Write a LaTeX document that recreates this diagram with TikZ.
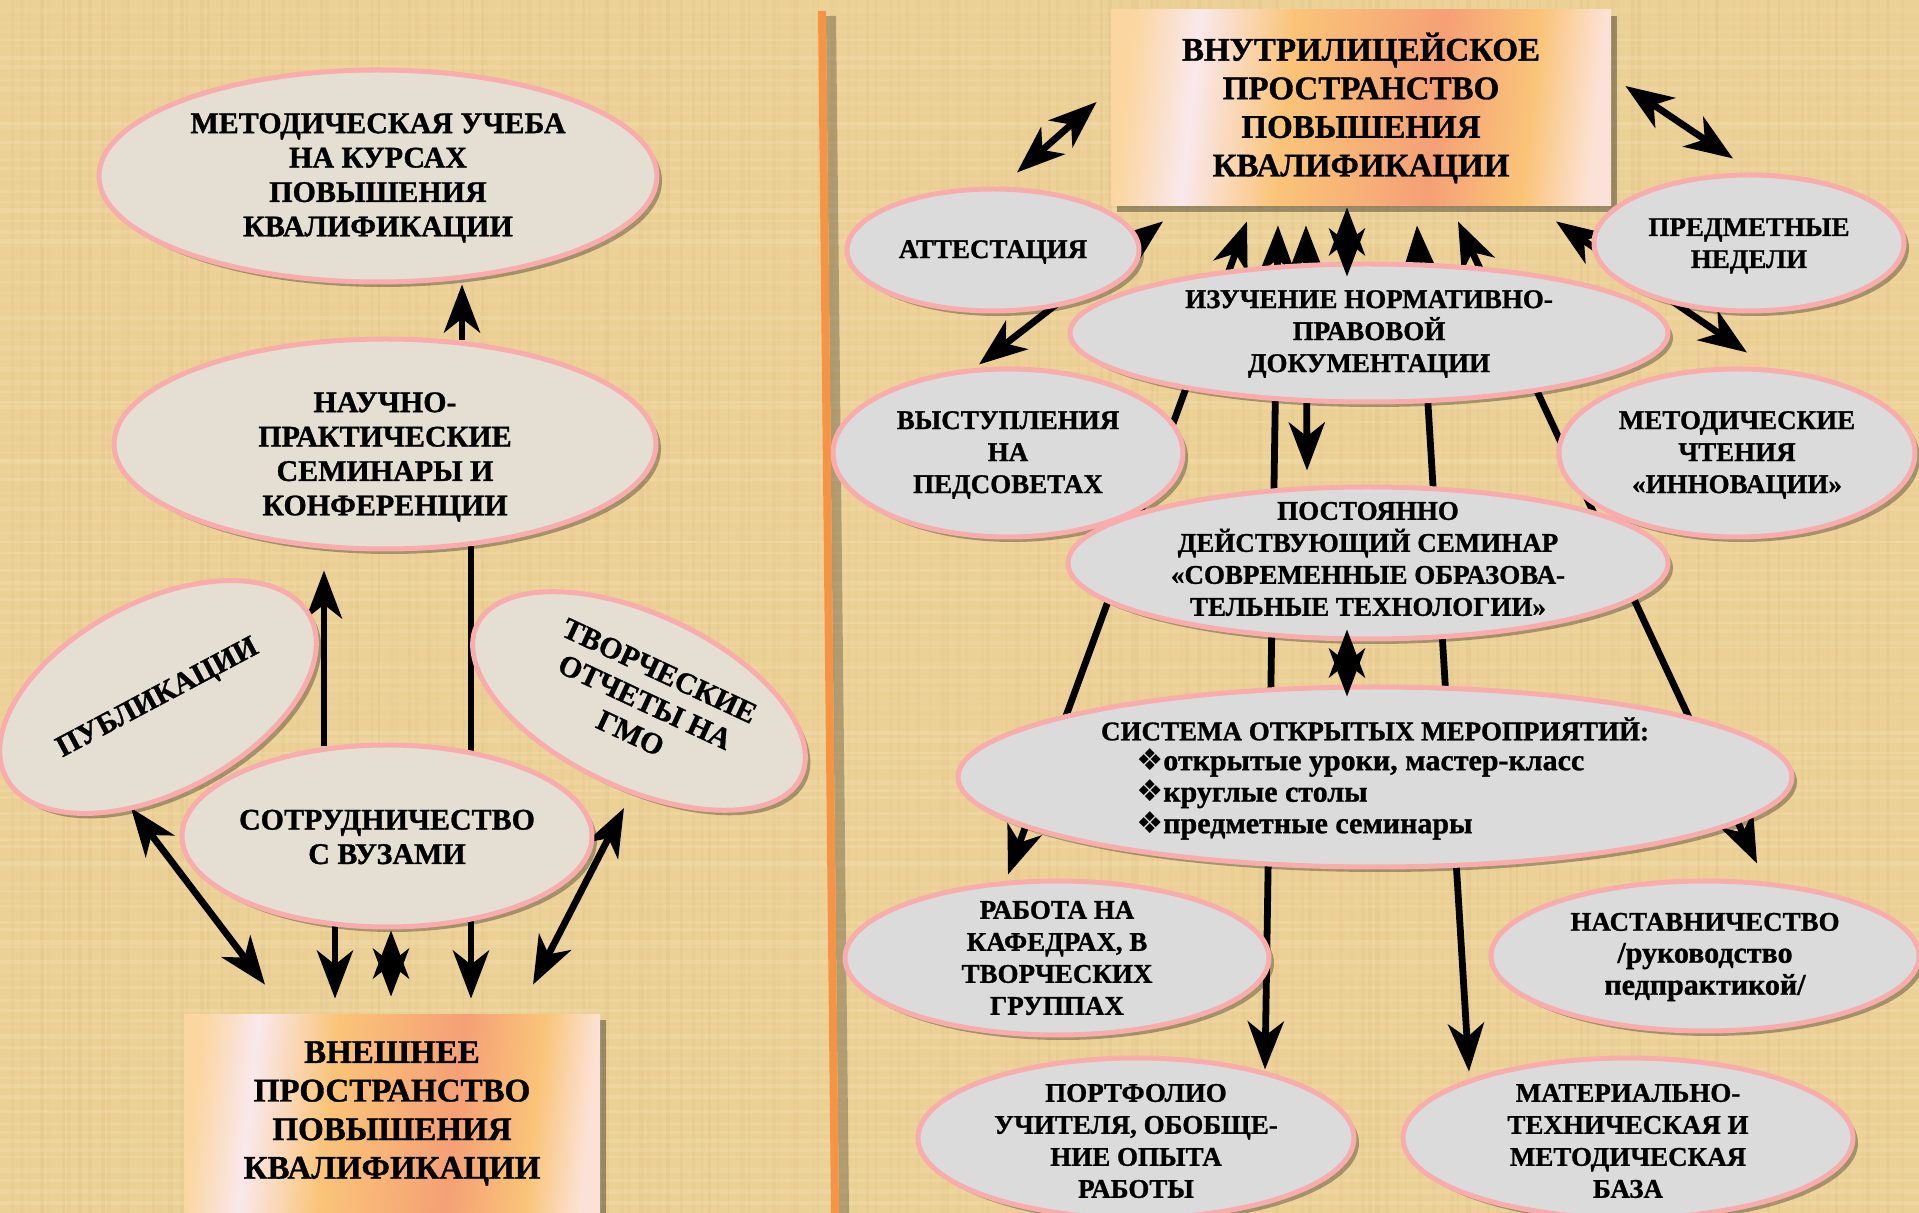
\documentclass[tikz,border=0pt]{standalone}
\usepackage{fontspec}
\setmainfont{Liberation Serif}[BoldFeatures={FakeBold=1}]
\newfontfamily\dingfont{DejaVu Sans}
\usepackage{tikz}
\usepackage{xcolor}
\usetikzlibrary{shapes.geometric, arrows.meta, positioning, calc, shadows}

\definecolor{papertan}{RGB}{236,209,151}
\definecolor{papyrusdark}{RGB}{205,172,108}
\definecolor{papyruslight}{RGB}{248,230,188}
\definecolor{divider}{RGB}{245,148,68}
\definecolor{pinkline}{RGB}{249,172,172}
\definecolor{stone}{RGB}{229,223,211}
\definecolor{greyfill}{RGB}{219,219,219}
\definecolor{peachA}{RGB}{251,214,160}
\definecolor{peachW}{RGB}{250,232,236}
\definecolor{peachO}{RGB}{250,196,120}
\definecolor{peachS}{RGB}{245,160,118}
\definecolor{peachL}{RGB}{252,226,214}

\pgfdeclarehorizontalshading{peachshade}{100bp}{color(0bp)=(peachA); color(25bp)=(peachA); color(32bp)=(peachW); color(42bp)=(peachO); color(58bp)=(peachS); color(68bp)=(peachO); color(75bp)=(peachL); color(100bp)=(peachL)}

\pgfdeclarelayer{paper}
\pgfdeclarelayer{bg}
\pgfsetlayers{paper,bg,main}

\newcommand{\ovalfont}{\bfseries\fontsize{15}{17.2}\selectfont}
\newcommand{\rovalfont}{\bfseries\fontsize{13.5}{16}\selectfont}
\newcommand{\boxfont}{\bfseries\fontsize{16.5}{19.3}\selectfont}
\newcommand{\lcfont}{\bfseries\fontsize{15}{15.75}\selectfont}

\tikzset{
  stoneoval/.style 2 args={ellipse, draw=pinkline, line width=2.5pt, fill=stone,
    minimum width=#1pt, minimum height=#2pt, inner sep=0pt,
    drop shadow={shadow xshift=2.5pt, shadow yshift=-2.5pt, opacity=.3, fill=black}},
  greyoval/.style 2 args={stoneoval={#1}{#2}, fill=greyfill},
  lbl/.style={align=center, font=\ovalfont, inner sep=0pt},
  rlbl/.style={align=center, font=\rovalfont, inner sep=0pt},
  spacebox/.style 2 args={rectangle, minimum width=#1pt, minimum height=#2pt, inner sep=0pt,
    shading=peachshade, shading angle=-6, align=center, font=\boxfont,
    drop shadow={shadow xshift=3pt, shadow yshift=-3pt, opacity=.35, fill=black}},
  arr/.style={line width=3.4pt, -{Stealth[length=24pt, width=18pt, inset=7pt]}},
  dbl/.style={line width=3.4pt, {Stealth[length=24pt, width=18pt, inset=7pt]}-{Stealth[length=24pt, width=18pt, inset=7pt]}}
}

\begin{document}
\begin{tikzpicture}[x=0.5pt, y=-0.5pt]
\useasboundingbox (0,0) rectangle (1919,1213);

% papyrus background and divider
\begin{pgfonlayer}{paper}
  \fill[papertan] (0,0) rectangle (1919,1213);
  \pgfmathsetseed{3}
  \foreach \i in {0,...,190} {
    \pgfmathsetmacro{\xx}{\i*10+rand*4}
    \pgfmathsetmacro{\op}{0.05+0.12*rnd}
    \pgfmathsetmacro{\lw}{0.8+1.6*rnd}
    \draw[papyrusdark, line width=\lw pt, opacity=\op] (\xx,0) -- (\xx,1213);
  }
  \foreach \i in {0,...,120} {
    \pgfmathsetmacro{\yy}{\i*10+rand*4}
    \pgfmathsetmacro{\op}{0.08+0.22*rnd}
    \pgfmathsetmacro{\lw}{0.8+1.6*rnd}
    \draw[papyruslight, line width=\lw pt, opacity=\op] (0,\yy) -- (1919,\yy);
  }
  \draw[black, opacity=.25, line width=5pt] (831,16) -- (844,1213);
  \draw[divider, line width=4pt] (822,11) -- (835,1213);
\end{pgfonlayer}

% left part: external space
\node[stoneoval={279}{106}] (kurs) at (378,176) {};
\node[lbl] (kurs-t) at (378,178) {МЕТОДИЧЕСКАЯ УЧЕБА\\НА КУРСАХ\\ПОВЫШЕНИЯ\\КВАЛИФИКАЦИИ};
\node[stoneoval={271}{105}] (nauch) at (385,444) {};
\node[lbl] (nauch-t) at (385,457) {НАУЧНО-\\ПРАКТИЧЕСКИЕ\\СЕМИНАРЫ И\\КОНФЕРЕНЦИИ};
\node[stoneoval={172}{95}, rotate=28] (publ) at (158,697) {};
\node[lbl, rotate=28] (publ-t) at (158,699) {ПУБЛИКАЦИИ};
\node[stoneoval={179}{87}, rotate=-25] (tvor) at (639,701) {};
\node[lbl, rotate=-25] (tvor-t) at (645,702) {ТВОРЧЕСКИЕ\\ОТЧЕТЫ НА\\ГМО};
\node[stoneoval={205}{91}] (sotr) at (387,836) {};
\node[lbl] (sotr-t) at (387,837) {СОТРУДНИЧЕСТВО\\С ВУЗАМИ};
\node[spacebox={208}{99.5}] (vnesh) at (392,1113.5) {ВНЕШНЕЕ\\ПРОСТРАНСТВО\\ПОВЫШЕНИЯ\\КВАЛИФИКАЦИИ};

% right part: inner space
\node[spacebox={250}{98}] (vnutr) at (1361,108) {ВНУТРИЛИЦЕЙСКОЕ\\ПРОСТРАНСТВО\\ПОВЫШЕНИЯ\\КВАЛИФИКАЦИИ};
\node[greyoval={146}{61}] (att) at (993,250) {};
\node[rlbl] (att-t) at (993,252) {АТТЕСТАЦИЯ};
\node[greyoval={155}{68}] (pred) at (1749,243) {};
\node[rlbl] (pred-t) at (1749,246) {ПРЕДМЕТНЫЕ\\НЕДЕЛИ};
\node[greyoval={175}{84}] (vyst) at (1008,453) {};
\node[rlbl] (vyst-t) at (1008,455) {ВЫСТУПЛЕНИЯ\\НА\\ПЕДСОВЕТАХ};
\node[greyoval={178}{84}] (chten) at (1737,453) {};
\node[rlbl] (chten-t) at (1737,455) {МЕТОДИЧЕСКИЕ\\ЧТЕНИЯ\\«ИННОВАЦИИ»};
\node[greyoval={299}{69}] (izuch) at (1369,333) {};
\node[rlbl] (izuch-t) at (1369,334) {ИЗУЧЕНИЕ НОРМАТИВНО-\\ПРАВОВОЙ\\ДОКУМЕНТАЦИИ};
\node[greyoval={300}{76}] (seminar) at (1368,563) {};
\node[rlbl] (seminar-t) at (1368,559) {ПОСТОЯННО\\ДЕЙСТВУЮЩИЙ СЕМИНАР\\«СОВРЕМЕННЫЕ ОБРАЗОВА-\\ТЕЛЬНЫЕ ТЕХНОЛОГИИ»};
\node[greyoval={417}{90}] (sistema) at (1375,777) {};
\node[rlbl] (sistema-h) at (1375,729) {СИСТЕМА ОТКРЫТЫХ МЕРОПРИЯТИЙ:};
\node[rlbl, font=\lcfont, align=left, anchor=west] (sistema-l) at (1136,794) {{\dingfont ❖}открытые уроки, мастер-класс\\{\dingfont ❖}круглые столы\\{\dingfont ❖}предметные семинары};
\node[greyoval={212}{77}] (kafedr) at (1057,958) {};
\node[rlbl] (kafedr-t) at (1057,958) {РАБОТА НА\\КАФЕДРАХ, В\\ТВОРЧЕСКИХ\\ГРУППАХ};
\node[greyoval={214}{75}] (nastav) at (1705,956) {};
\node[rlbl] (nastav-t) at (1705,957) {НАСТАВНИЧЕСТВО\\{\lcfont /руководство}\\{\lcfont педпрактикой/}};
\node[greyoval={218}{80}] (portf) at (1136,1138) {};
\node[rlbl] (portf-t) at (1136,1141) {ПОРТФОЛИО\\УЧИТЕЛЯ, ОБОБЩЕ-\\НИЕ ОПЫТА\\РАБОТЫ};
\node[greyoval={225}{80}] (mater) at (1628,1138) {};
\node[rlbl] (mater-t) at (1628,1141) {МАТЕРИАЛЬНО-\\ТЕХНИЧЕСКАЯ И\\МЕТОДИЧЕСКАЯ\\БАЗА};

% connectors behind the ovals
\begin{pgfonlayer}{bg}
  \draw[arr] ($(sotr.north)+(-63,4)$) -- ($(nauch.south)+(-61,19)$);
  \draw[arr] ($(nauch.north)+(77,4)$) -- ($(kurs.south)+(84,0)$);
  \draw[arr] ($(nauch.south)+(86,-8)$) -- ($(vnesh.north)+(79,-15)$);
  \draw[arr] ($(sotr.south)+(-52,-6)$) -- ($(vnesh.north)+(-57,-15)$);
  \draw[dbl] ($(publ.center)+(-27,111)$) -- ($(vnesh.north)+(-127,-29)$);
  \draw[dbl] ($(tvor.center)+(-15,107)$) -- ($(vnesh.north)+(141,-29)$);

  \draw[dbl] ($(att.north)+(24,-14)$) -- ($(vnutr.west)+(-14,-6)$);
  \draw[dbl] ($(vnutr.east)+(14,-22)$) -- ($(pred.north)+(-16,-14)$);
  \draw[dbl] ($(vnutr.south)+(-198,15)$) -- ($(vyst.north)+(-29,-2)$);
  \draw[dbl] ($(vnutr.south)+(-114,15)$) -- ($(kafedr.north)+(-49,-4)$);
  \draw[dbl] ($(vnutr.south)+(-83,19)$) -- ($(portf.north)+(129,14)$);
  \draw[dbl] ($(vnutr.south)+(-55,19)$) -- ($(seminar.north)+(-61,-14)$);
  \draw[dbl] ($(vnutr.south)+(56,19)$) -- ($(mater.north)+(-159,16)$);
  \draw[dbl] ($(vnutr.south)+(97,15)$) -- ($(nastav.north)+(52,-15)$);
  \draw[dbl] ($(vnutr.south)+(195,15)$) -- ($(chten.north)+(10,-14)$);
\end{pgfonlayer}

% short double arrows on top
\draw[dbl] ($(sotr.south)+(4,1)$) -- ($(vnesh.north)+(-1,-17)$);
\draw[dbl] ($(vnutr.south)+(-14,1)$) -- ($(izuch.north)+(-22,15)$);
\draw[dbl] ($(seminar.south)+(-21,-12)$) -- ($(sistema.north)+(-28,12)$);
\end{tikzpicture}
\end{document}
